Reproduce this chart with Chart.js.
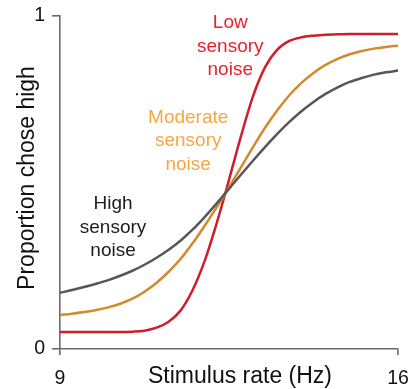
<!DOCTYPE html>
<html>
<head>
<meta charset="utf-8">
<script src="https://cdn.jsdelivr.net/npm/chart.js@4.4.0/dist/chart.umd.min.js"></script>
<style>
  html, body { margin: 0; padding: 0; background: #ffffff; }
  #wrap { width: 415px; height: 389px; }
</style>
</head>
<body>
<div id="wrap"><canvas id="chart" width="415" height="389"></canvas></div>
<script>
// Stimulus rates (Hz) at which each psychometric curve is sampled
const stimulusRate = [
  9.00, 9.25, 9.50, 9.75, 10.00, 10.25, 10.50, 10.75, 11.00, 11.25,
  11.50, 11.75, 12.00, 12.25, 12.50, 12.75, 13.00, 13.25, 13.50, 13.75,
  14.00, 14.25, 14.50, 14.75, 15.00, 15.25, 15.50, 15.75, 16.00
];

// Proportion of "high" choices for each noise level
const lowNoise = [
  0.051, 0.051, 0.051, 0.051, 0.051, 0.051, 0.052, 0.055, 0.064, 0.082,
  0.116, 0.178, 0.266, 0.380, 0.508, 0.640, 0.760, 0.847, 0.899, 0.925,
  0.936, 0.941, 0.944, 0.945, 0.946, 0.946, 0.946, 0.946, 0.946
];
const moderateNoise = [
  0.102, 0.106, 0.111, 0.117, 0.125, 0.136, 0.151, 0.172, 0.199, 0.232,
  0.271, 0.318, 0.371, 0.427, 0.485, 0.546, 0.607, 0.665, 0.717, 0.762,
  0.799, 0.829, 0.853, 0.871, 0.885, 0.895, 0.902, 0.907, 0.911
];
const highNoise = [
  0.169, 0.177, 0.186, 0.196, 0.207, 0.220, 0.235, 0.253, 0.274, 0.298,
  0.326, 0.359, 0.397, 0.438, 0.481, 0.524, 0.566, 0.607, 0.646, 0.682,
  0.714, 0.742, 0.766, 0.786, 0.802, 0.814, 0.824, 0.831, 0.836
];

// Axis tick values
const xTicks = [9, 16];
const yTicks = [0, 1];

// Curve labels
const curveLabels = [
  { lines: ['Low', 'sensory', 'noise'], x: 12.526, y: 0.9625, color: '#e8232d' },
  { lines: ['Moderate', 'sensory', 'noise'], x: 11.655, y: 0.6787, color: '#f6a645' },
  { lines: ['High', 'sensory', 'noise'], x: 10.099, y: 0.4204, color: '#1c1c1c' }
];

const FONT = '"Liberation Sans", Arial, Helvetica, sans-serif';
const AXIS_COLOR = '#6b6b6b';

function pts(values) {
  return stimulusRate.map((x, i) => ({ x: x, y: values[i] }));
}

const textPlugin = {
  id: 'textPlugin',
  afterDraw(chart) {
    const { ctx, scales } = chart;
    ctx.save();
    // curve labels
    ctx.font = '19px ' + FONT;
    ctx.textAlign = 'center';
    ctx.textBaseline = 'alphabetic';
    curveLabels.forEach(l => {
      const px = scales.x.getPixelForValue(l.x);
      const py = scales.y.getPixelForValue(l.y);
      ctx.fillStyle = l.color;
      l.lines.forEach((t, i) => ctx.fillText(t, px, py + i * 23.5));
    });
    // axis titles
    ctx.fillStyle = '#111111';
    ctx.font = '23px ' + FONT;
    ctx.fillText('Stimulus rate (Hz)', 240, 383);
    ctx.translate(34, 178);
    ctx.rotate(-Math.PI / 2);
    ctx.fillText('Proportion chose high', 0, 0);
    ctx.restore();
  }
};

new Chart(document.getElementById('chart'), {
  type: 'line',
  data: {
    datasets: [
      { label: 'High sensory noise', data: pts(highNoise), borderColor: '#575757' },
      { label: 'Moderate sensory noise', data: pts(moderateNoise), borderColor: '#d4892c' },
      { label: 'Low sensory noise', data: pts(lowNoise), borderColor: '#d01d2b' }
    ]
  },
  options: {
    responsive: false,
    animation: false,
    devicePixelRatio: 1,
    layout: { padding: { top: 16, right: 17, bottom: 0, left: 0 } },
    elements: {
      line: { borderWidth: 2.5, cubicInterpolationMode: 'monotone', fill: false },
      point: { radius: 0, hoverRadius: 0 }
    },
    plugins: { legend: { display: false }, tooltip: { enabled: false } },
    scales: {
      x: {
        type: 'linear',
        min: 9,
        max: 16,
        afterBuildTicks: s => { s.ticks = xTicks.map(v => ({ value: v })); },
        afterFit: s => { s.height = 40; s.paddingLeft = 0; s.paddingRight = 0; },
        grid: { drawOnChartArea: false, drawTicks: true, tickLength: 6, color: AXIS_COLOR, lineWidth: 1.6 },
        border: { display: true, color: AXIS_COLOR, width: 1.6 },
        ticks: { color: '#111111', font: { family: FONT, size: 19.5 }, padding: 12, maxRotation: 0 }
      },
      y: {
        type: 'linear',
        min: 0,
        max: 1,
        afterBuildTicks: s => { s.ticks = yTicks.map(v => ({ value: v })); },
        afterFit: s => { s.width = 60; s.paddingTop = 0; s.paddingBottom = 0; },
        grid: { drawOnChartArea: false, drawTicks: true, tickLength: 8, color: AXIS_COLOR, lineWidth: 1.6 },
        border: { display: true, color: AXIS_COLOR, width: 1.6 },
        ticks: { color: '#111111', font: { family: FONT, size: 19.5 }, padding: 7 }
      }
    }
  },
  plugins: [textPlugin]
});
</script>
</body>
</html>
